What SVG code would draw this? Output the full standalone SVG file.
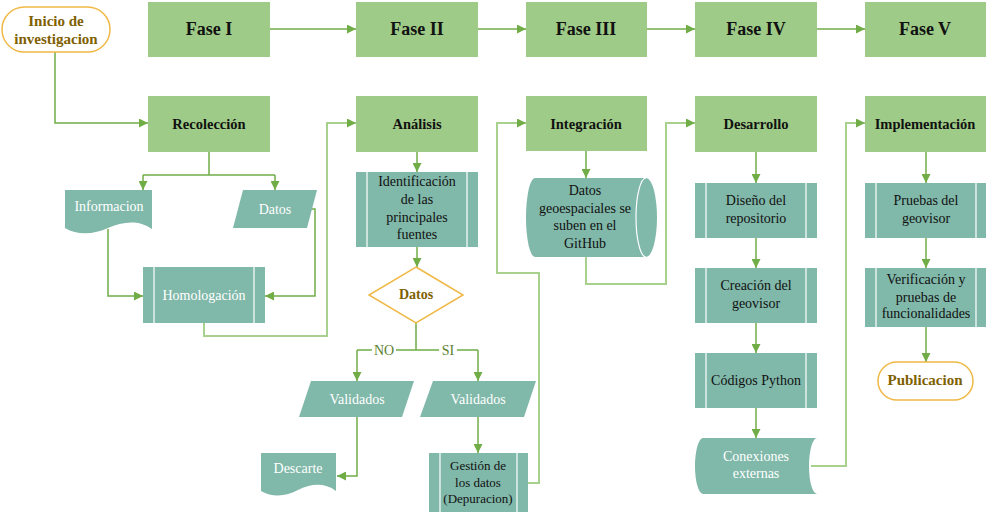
<svg xmlns="http://www.w3.org/2000/svg" width="994" height="514" viewBox="0 0 994 514">
<defs>
<marker id="ah" viewBox="0 0 10 10" refX="10" refY="5" markerWidth="9" markerHeight="9" markerUnits="userSpaceOnUse" orient="auto"><path d="M0,0 L10,5 L0,10 z" fill="#70AD47"/></marker>
<style>
.g{fill:#9ECB87;}
.t{fill:#80B8A9;}
.ln{stroke:#FFFFFF;stroke-width:1.2;fill:none;}
.st{fill:#FFFFFF;stroke:#F0B845;stroke-width:1.5;}
.c{fill:none;stroke:#70AD47;stroke-width:1.5;}
.cl{fill:none;stroke:#A9D18E;stroke-width:2;}
.a{marker-end:url(#ah);}
text{text-anchor:middle;}
.h1{font-size:18px;font-weight:bold;fill:#111;}
.h2{font-size:14.5px;font-weight:bold;fill:#111;}
.br{font-size:15px;font-weight:bold;fill:#7F6000;}
.w{font-size:14px;fill:#FFFFFF;}
.k{font-size:14px;fill:#111;}
.lb{font-size:14px;fill:#5B7F2E;}
</style>
</defs>
<rect width="994" height="514" fill="#FFFFFF"/>
<g font-family="'Liberation Serif', 'DejaVu Serif', serif">
<g id="connectors">
<path class="c a" d="M55,52 V123 H148"/>
<path class="c a" d="M270,29 H356"/>
<path class="c a" d="M478,29 H526"/>
<path class="c a" d="M647,29 H695"/>
<path class="c a" d="M817,29 H865"/>
<path class="c" d="M209,152 V175 M143,175 H275"/>
<path class="c a" d="M143,175 V190"/>
<path class="c a" d="M275,175 V190"/>
<path class="c a" d="M108,229 V296 H143"/>
<path class="c a" d="M310,209 H315 V296 H265"/>
<path class="cl a" d="M204,323 V336 H327 V123 H356"/>
<path class="c a" d="M417,152 V172"/>
<path class="c a" d="M417,247 V267"/>
<path class="c" d="M416,323 V350 M357,350 H478"/>
<path class="c a" d="M357,350 V381"/>
<path class="c a" d="M478,350 V381"/>
<path class="c a" d="M357,417 V476 H337"/>
<path class="c a" d="M478,417 V453"/>
<path class="cl a" d="M528,483 H539 V273 H497 V123 H526"/>
<path class="c a" d="M586,151 V178"/>
<path class="cl a" d="M586,257 V284 H666 V123 H695"/>
<path class="c a" d="M756,152 V183"/>
<path class="c a" d="M756,238 V268"/>
<path class="c a" d="M756,323 V353"/>
<path class="c a" d="M756,408 V438"/>
<path class="cl a" d="M811,466 H846 V123 H865"/>
<path class="c a" d="M926,152 V183"/>
<path class="c a" d="M926,238 V268"/>
<path class="c a" d="M926,327 V362"/>
<rect x="372" y="342" width="24" height="16" fill="#FFFFFF"/>
<rect x="439" y="342" width="18" height="16" fill="#FFFFFF"/>
<text class="lb" x="384" y="355">NO</text>
<text class="lb" x="448" y="355">SI</text>
</g>

<g id="inicio">
<rect class="st" x="2" y="7" width="108" height="45" rx="22.5"/>
<text class="br" x="56" y="26">Inicio de</text>
<text class="br" x="56" y="44">investigacion</text>
</g>

<g id="fase1"><rect class="g" x="148" y="2" width="122" height="55"/><text class="h1" x="209" y="35">Fase I</text></g>
<g id="fase2"><rect class="g" x="356" y="2" width="122" height="55"/><text class="h1" x="417" y="35">Fase II</text></g>
<g id="fase3"><rect class="g" x="526" y="2" width="121" height="55"/><text class="h1" x="586" y="35">Fase III</text></g>
<g id="fase4"><rect class="g" x="695" y="2" width="122" height="55"/><text class="h1" x="756" y="35">Fase IV</text></g>
<g id="fase5"><rect class="g" x="865" y="2" width="121" height="55"/><text class="h1" x="925" y="35">Fase V</text></g>

<g id="recoleccion"><rect class="g" x="148" y="96" width="122" height="56"/><text class="h2" x="209" y="129">Recolección</text></g>
<g id="analisis"><rect class="g" x="356" y="96" width="122" height="56"/><text class="h2" x="417" y="129">Análisis</text></g>
<g id="integracion"><rect class="g" x="526" y="96" width="121" height="55"/><text class="h2" x="586" y="129">Integración</text></g>
<g id="desarrollo"><rect class="g" x="695" y="96" width="122" height="56"/><text class="h2" x="756" y="129">Desarrollo</text></g>
<g id="implementacion"><rect class="g" x="865" y="96" width="121" height="56"/><text class="h2" x="925" y="129">Implementación</text></g>

<g id="informacion">
<path class="t" d="M65,190 H152 V229 C138,219 122,222 108,228 C95,234 78,236 65,228 Z"/>
<text class="w" x="109" y="211">Informacion</text>
</g>
<g id="datos1">
<polygon class="t" points="243,190 317,190 307,228 233,228"/>
<text class="w" x="275" y="214">Datos</text>
</g>
<g id="homologacion">
<rect class="t" x="143" y="267" width="122" height="56"/>
<path class="ln" d="M154,267 V323 M254,267 V323"/>
<text class="w" x="204" y="300">Homologación</text>
</g>

<g id="identificacion">
<rect class="t" x="356" y="172" width="122" height="75"/>
<path class="ln" d="M367,172 V247 M467,172 V247"/>
<text class="k" x="417" y="186">Identificación</text>
<text class="k" x="417" y="204">de las</text>
<text class="k" x="417" y="222">principales</text>
<text class="k" x="417" y="239">fuentes</text>
</g>
<g id="decision">
<polygon class="st" points="416,267 463,295 416,323 369,295"/>
<text class="br" x="416" y="299" style="font-size:14px">Datos</text>
</g>
<g id="validados_no">
<polygon class="t" points="311,381 414,381 402,417 299,417"/>
<text class="w" x="357" y="404">Validados</text>
</g>
<g id="validados_si">
<polygon class="t" points="433,381 536,381 524,417 420,417"/>
<text class="w" x="478" y="404">Validados</text>
</g>
<g id="descarte">
<path class="t" d="M261,453 H336 V491 C324,482 310,484 298,490 C287,496 273,498 261,491 Z"/>
<text class="w" x="298" y="473">Descarte</text>
</g>
<g id="gestion">
<rect class="t" x="429" y="453" width="99" height="59"/>
<path class="ln" d="M440,453 V512 M517,453 V512"/>
<text class="k" x="478" y="470" style="font-size:13px">Gestión de</text>
<text class="k" x="478" y="487" style="font-size:13px">los datos</text>
<text class="k" x="478" y="503" style="font-size:13px">(Depuracion)</text>
</g>

<g id="datos_geo">
<path class="t" d="M535,178 L646,178 A11,39.5 0 0 1 646,257 L535,257 A9,39.5 0 0 1 535,178 Z"/>
<path class="ln" d="M646,178 A10,39.5 0 0 0 646,257"/>
<text class="k" x="585" y="195">Datos</text>
<text class="k" x="585" y="213">geoespaciales se</text>
<text class="k" x="585" y="230">suben en el</text>
<text class="k" x="585" y="248">GitHub</text>
</g>

<g id="diseno">
<rect class="t" x="695" y="183" width="122" height="55"/>
<path class="ln" d="M706,183 V238 M806,183 V238"/>
<text class="k" x="756" y="205">Diseño del</text>
<text class="k" x="756" y="223">repositorio</text>
</g>
<g id="creacion">
<rect class="t" x="695" y="268" width="122" height="55"/>
<path class="ln" d="M706,268 V323 M806,268 V323"/>
<text class="k" x="756" y="290">Creación del</text>
<text class="k" x="756" y="308">geovisor</text>
</g>
<g id="codigos">
<rect class="t" x="695" y="353" width="122" height="55"/>
<path class="ln" d="M706,353 V408 M806,353 V408"/>
<text class="k" x="756" y="385">Códigos Python</text>
</g>
<g id="conexiones">
<path class="t" d="M703,438 L817,438 A8,28 0 0 0 817,494 L703,494 A8,28 0 0 1 703,438 Z"/>
<text class="w" x="756" y="461">Conexiones</text>
<text class="w" x="756" y="478">externas</text>
</g>

<g id="pruebas">
<rect class="t" x="865" y="183" width="121" height="55"/>
<path class="ln" d="M876,183 V238 M976,183 V238"/>
<text class="k" x="926" y="205">Pruebas del</text>
<text class="k" x="926" y="223">geovisor</text>
</g>
<g id="verificacion">
<rect class="t" x="865" y="268" width="121" height="59"/>
<path class="ln" d="M876,268 V327 M976,268 V327"/>
<text class="k" x="926" y="284">Verificación y</text>
<text class="k" x="926" y="302">pruebas de</text>
<text class="k" x="926" y="318">funcionalidades</text>
</g>
<g id="publicacion">
<rect class="st" x="878" y="362" width="95" height="38" rx="19"/>
<text class="br" x="925" y="385">Publicacion</text>
</g>
</g>
</svg>
